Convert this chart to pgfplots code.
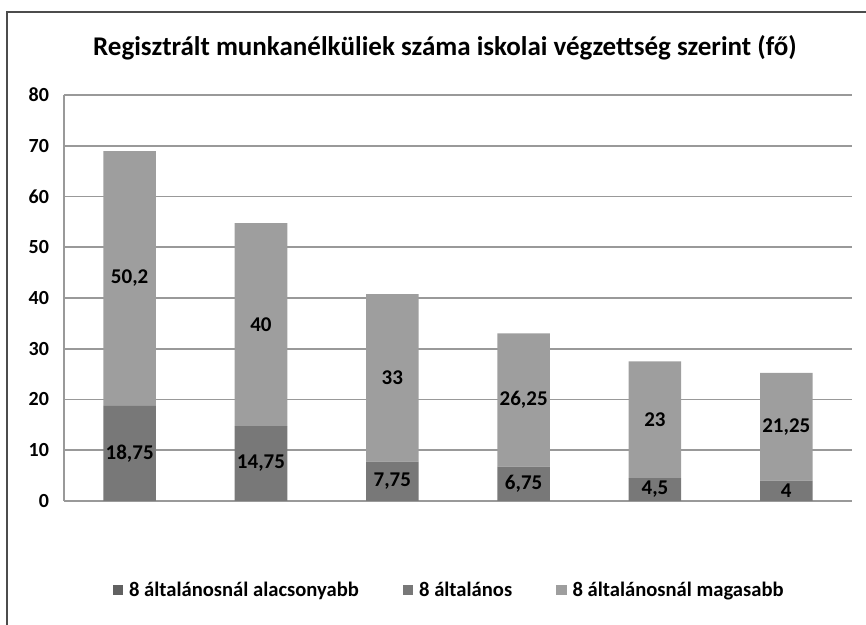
\documentclass[border=0pt]{standalone}
\usepackage{fontspec}
\setmainfont{Carlito}
\usepackage{pgfplots}
\usepackage{pgfplotstable}
\pgfplotsset{compat=1.18}

\definecolor{lowc}{gray}{0.38}
\definecolor{midc}{gray}{0.47}
\definecolor{highc}{gray}{0.62}
\definecolor{gridc}{gray}{0.60}

% év (0 = 2012), 8 általánosnál alacsonyabb, 8 általános, 8 általánosnál magasabb
\pgfplotstableread{
x  low  mid    high
0  0    18.75  50.2
1  0    14.75  40
2  0    7.75   33
3  0    6.75   26.25
4  0    4.5    23
5  0    4      21.25
}\datatable

\begin{document}
\begin{tikzpicture}
\begin{axis}[
    ybar stacked,
    bar width=0.40,
    width=394pt, height=203pt,
    scale only axis,
    xmin=-0.5, xmax=5.5,
    ymin=0, ymax=80,
    ytick={0,10,...,80},
    xtick={0,...,5},
    xticklabels={2012,2013,2014,2015,2016,2017},
    axis x line=none,
    axis y line*=left,
    y axis line style={draw=gridc, line width=0.6pt},
    ymajorgrids,
    grid style={draw=gridc, line width=0.8pt},
    major tick length=0pt,
    tick label style={font=\fontsize{10}{12}\selectfont\bfseries},
    yticklabel style={xshift=-4pt},
    xticklabel style={yshift=-10pt},
    /pgf/number format/assume math mode=true,
    legend columns=3,
    legend style={at={(0.49,-0.22)}, anchor=center, draw=none, fill=none,
        font=\fontsize{10.3}{12}\selectfont\bfseries,
        /tikz/every odd column/.append style={column sep=1pt},
        /tikz/every even column/.append style={column sep=20pt}},
    legend image code/.code={\fill[#1] (0pt,-2.6pt) rectangle (5.2pt,2.6pt);},
    clip=false,
]
\addplot[fill=lowc, draw=none] table[x=x, y=low] {\datatable};
\addplot[fill=midc, draw=none,
    nodes near coords={\pgfmathprintnumber[use comma, fixed, precision=2]{\rawy}},
    visualization depends on={rawy \as \rawy},
    every node near coord/.append style={anchor=center, font=\fontsize{10.5}{12}\selectfont\bfseries},
    ] table[x=x, y=mid] {\datatable};
\addplot[fill=highc, draw=none,
    nodes near coords={\pgfmathprintnumber[use comma, fixed, precision=2]{\rawy}},
    visualization depends on={rawy \as \rawy},
    every node near coord/.append style={anchor=center, font=\fontsize{10.5}{12}\selectfont\bfseries},
    ] table[x=x, y=high] {\datatable};
\legend{8 általánosnál alacsonyabb, 8 általános, 8 általánosnál magasabb}
\node[font=\fontsize{13.5}{15}\selectfont\bfseries] at (rel axis cs:0.4835,1.116)
    {Regisztrált munkanélküliek száma iskolai végzettség szerint (fő)};
\draw[black!70, line width=0.8pt] (rel axis cs:-0.0722,-0.305) -- (rel axis cs:-0.0722,1.205) -- (rel axis cs:1.0178,1.205);
\path[use as bounding box] (rel axis cs:-0.0812,-0.305) rectangle (rel axis cs:1.0178,1.234);
\end{axis}
\end{tikzpicture}
\end{document}
